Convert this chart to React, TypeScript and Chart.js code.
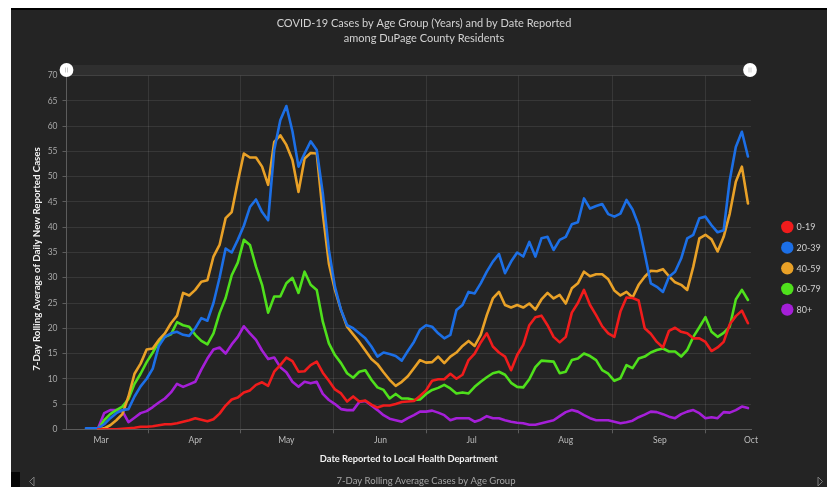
import React, { useEffect, useRef } from 'react';
import { Chart, registerables } from 'chart.js';

Chart.register(...registerables);

const W = 827;
const H = 487;
const FONT = 'Lato, "Open Sans", sans-serif';
const PANEL_BG = '#242424';

// x = day number, day 0 = 1 March 2020, every second day
const DAYS: number[] = Array.from({ length: 110 }, (_, i) => -5 + 2 * i);

const MONTH_STARTS = [0, 31, 61, 92, 122, 153, 184, 214];
const MONTH_LABELS = ['Mar', 'Apr', 'May', 'Jun', 'Jul', 'Aug', 'Sep', 'Oct'];
const MID_MONTHS = [15.5, 46, 76.5, 107, 137.5, 168.5, 199];

const SERIES_LABELS = ['0-19', '20-39', '40-59', '60-79', '80+'];
const SERIES_COLORS = ['#f01c1c', '#1c6fe6', '#e9a127', '#4fe01c', '#a51fd8'];

const AGE_0_19 = [
  null, null, 0, 0, 0, 0, 0.1, 0.2, 0.3, 0.5, 0.5, 0.6, 0.8, 1.0, 1.0, 1.2, 1.5, 1.8, 2.2, 1.9,
  1.6, 2.0, 3.1, 4.7, 5.9, 6.3, 7.3, 7.7, 8.8, 9.3, 8.6, 11.4, 12.7, 14.2, 13.5, 11.4, 11.5, 12.7, 13.4, 11.2,
  9.6, 7.9, 7.1, 5.5, 6.5, 5.5, 5.7, 4.9, 4.3, 4.7, 4.7, 5.0, 5.4, 5.5, 5.6, 6.6, 7.7, 9.6, 9.9, 9.9,
  11.0, 10.0, 10.8, 13.7, 15.0, 17.2, 19.0, 16.4, 15.2, 14.4, 11.7, 14.7, 16.7, 20.6, 22.2, 22.5, 20.6, 18.3, 17.2, 18.3,
  23.1, 25.0, 27.6, 24.6, 22.6, 20.4, 19.0, 18.3, 23.3, 26.1, 26.0, 25.5, 20.0, 18.9, 17.3, 16.2, 19.5, 20.1, 19.3, 19.0,
  18.0, 18.0, 17.3, 15.5, 16.2, 17.3, 20.8, 22.4, 23.5, 21.0,
];

const AGE_20_39 = [
  0.2, 0.2, 0.2, 1.0, 2.2, 3.2, 3.8, 4.0, 6.5, 8.5, 10.0, 12.0, 16.5, 18.3, 19.0, 19.3, 18.7, 18.5, 20.0, 22.0,
  21.5, 25.0, 30.0, 35.8, 35.0, 37.5, 40.3, 44.0, 45.5, 43.0, 41.4, 55.3, 61.2, 64.0, 59.0, 52.0, 54.6, 57.0, 55.3, 46.7,
  35.5, 28.2, 23.6, 20.6, 20.0, 19.0, 18.0, 16.4, 14.4, 15.2, 14.9, 14.5, 13.6, 15.5, 17.3, 19.7, 20.6, 20.3, 19.0, 18.0,
  18.7, 23.6, 24.6, 27.2, 26.9, 28.9, 31.2, 33.2, 34.7, 30.9, 33.2, 35.0, 34.2, 37.1, 34.2, 37.8, 38.1, 35.5, 37.5, 38.1,
  40.6, 41.0, 45.7, 43.7, 44.2, 44.6, 42.6, 42.1, 42.7, 45.4, 43.5, 40.4, 34.8, 28.9, 28.2, 27.2, 30.2, 31.2, 33.8, 37.8,
  38.5, 41.8, 42.1, 40.4, 39.0, 39.4, 49.3, 55.9, 58.9, 54.0,
];

const AGE_40_59 = [
  null, null, 0, 0.2, 0.8, 1.8, 3.0, 6.5, 11.0, 13.0, 15.8, 16.0, 17.7, 19.0, 21.0, 22.5, 27.0, 26.5, 27.6, 29.2,
  29.5, 34.2, 36.5, 41.8, 43.0, 49.0, 54.6, 53.8, 53.8, 52.0, 48.4, 56.9, 58.2, 56.3, 53.3, 47.0, 53.6, 54.7, 54.6, 42.7,
  32.8, 27.6, 23.6, 20.3, 18.8, 17.3, 15.6, 13.9, 12.9, 11.3, 9.8, 8.6, 9.4, 10.5, 12.1, 13.7, 13.2, 13.3, 14.4, 13.1,
  14.4, 15.2, 16.5, 17.5, 16.5, 18.7, 22.6, 25.9, 27.2, 24.6, 24.1, 24.6, 24.1, 24.9, 23.7, 25.7, 27.0, 25.9, 26.6, 24.9,
  27.9, 28.9, 31.2, 30.3, 30.7, 30.7, 29.7, 27.5, 26.5, 27.2, 26.1, 28.6, 30.2, 31.4, 31.3, 31.7, 30.3, 29.1, 28.6, 27.6,
  32.2, 37.8, 38.5, 37.6, 35.2, 38.1, 42.7, 49.0, 52.0, 44.7,
];

const AGE_60_79 = [
  null, null, 0, 1.8, 3.0, 3.8, 4.5, 6.0, 9.0, 11.0, 13.3, 15.2, 17.3, 18.3, 18.8, 21.2, 20.6, 20.3, 18.7, 17.5,
  16.8, 19.0, 23.0, 26.0, 30.5, 33.0, 37.5, 36.5, 32.2, 28.6, 23.1, 26.3, 26.3, 28.9, 30.0, 27.0, 31.2, 28.6, 27.6, 21.3,
  17.0, 14.7, 13.1, 11.1, 10.2, 11.4, 11.7, 9.8, 8.3, 7.8, 6.1, 7.0, 6.1, 6.1, 5.8, 5.9, 7.0, 7.8, 8.2, 8.8,
  8.1, 7.1, 7.3, 7.1, 8.4, 9.4, 10.3, 11.1, 11.4, 10.8, 9.2, 8.4, 8.3, 9.9, 12.3, 13.6, 13.5, 13.4, 11.1, 11.4,
  13.7, 14.0, 15.0, 14.5, 13.7, 11.7, 11.0, 9.6, 10.1, 12.7, 12.1, 14.0, 14.4, 15.2, 15.7, 16.0, 15.4, 15.4, 14.4, 15.7,
  18.3, 20.2, 22.2, 19.3, 18.3, 19.1, 20.3, 25.7, 27.6, 25.6,
];

const AGE_80_PLUS = [
  null, null, 0.2, 3.2, 3.8, 3.8, 3.6, 1.4, 2.3, 3.2, 3.6, 4.4, 5.3, 6.1, 7.3, 9.0, 8.4, 8.9, 9.4, 11.8,
  14.0, 15.8, 16.2, 15.0, 16.8, 18.3, 20.4, 19.0, 17.7, 15.6, 13.9, 14.2, 12.3, 11.3, 9.4, 8.4, 9.4, 9.1, 9.4, 7.0,
  5.8, 5.0, 4.0, 3.8, 3.8, 5.4, 5.6, 4.7, 3.8, 2.8, 2.1, 1.8, 1.5, 2.2, 2.8, 3.5, 3.5, 3.7, 3.3, 2.8,
  1.8, 2.2, 2.2, 2.2, 1.5, 1.9, 2.6, 2.2, 2.2, 1.8, 1.5, 1.3, 1.2, 0.9, 0.9, 1.2, 1.5, 1.8, 2.6, 3.4,
  3.8, 3.5, 2.8, 2.2, 1.8, 1.8, 1.8, 1.5, 1.2, 1.4, 1.7, 2.4, 2.9, 3.5, 3.4, 3.0, 2.5, 2.2, 3.0, 3.5,
  3.8, 3.2, 2.2, 2.4, 2.2, 3.4, 3.3, 3.8, 4.5, 4.2,
];

const SERIES_VALUES = [AGE_0_19, AGE_20_39, AGE_40_59, AGE_60_79, AGE_80_PLUS];

const TITLE_LINES = [
  'COVID-19 Cases by Age Group (Years) and by Date Reported',
  'among DuPage County Residents',
];
const Y_TITLE = '7-Day Rolling Average of Daily New Reported Cases';
const X_TITLE = 'Date Reported to Local Health Department';
const FOOTER = '7-Day Rolling Average Cases by Age Group';

const Y_MIN = 0;
const Y_MAX = 70;
const Y_STEP = 5;
const X_MIN = -11.4;
const X_MAX = 214;

const GRID_COLOR = 'rgba(255,255,255,0.09)';
const AXIS_COLOR = '#5c5c5c';

function drawKnob(ctx: CanvasRenderingContext2D, x: number, y: number) {
  ctx.beginPath();
  ctx.arc(x, y, 6.9, 0, Math.PI * 2);
  ctx.fillStyle = '#ffffff';
  ctx.fill();
  ctx.strokeStyle = '#bdbdbd';
  ctx.lineWidth = 0.8;
  ctx.beginPath();
  ctx.moveTo(x - 1, y - 2.5);
  ctx.lineTo(x - 1, y + 2.5);
  ctx.moveTo(x + 1, y - 2.5);
  ctx.lineTo(x + 1, y + 2.5);
  ctx.stroke();
}

const framePlugin = {
  id: 'dashboardFrame',
  beforeDraw(chart: any) {
    const { ctx, chartArea } = chart;
    ctx.save();
    ctx.fillStyle = '#ffffff';
    ctx.fillRect(0, 0, W, H);
    ctx.fillStyle = PANEL_BG;
    ctx.fillRect(11, 8, W - 11, H - 8);
    ctx.fillStyle = '#000000';
    ctx.fillRect(11, 8, W - 11, 2);
    ctx.fillStyle = '#050505';
    ctx.fillRect(11, 472, 9, 15);
    ctx.fillStyle = '#2f2f2f';
    ctx.fillRect(chartArea.left, 65, chartArea.right - chartArea.left - 1, 11);
    ctx.restore();
  },
  afterDraw(chart: any) {
    const { ctx, chartArea } = chart;
    ctx.save();
    // slider knobs
    drawKnob(ctx, chartArea.left, 70);
    drawKnob(ctx, chartArea.right - 1, 70);

    // title
    ctx.fillStyle = '#d2d2d2';
    ctx.font = `11px ${FONT}`;
    ctx.textAlign = 'center';
    ctx.textBaseline = 'middle';
    ctx.fillText(TITLE_LINES[0], 424, 23.5);
    ctx.fillText(TITLE_LINES[1], 424, 38);

    // y axis title
    ctx.save();
    ctx.translate(37, 259);
    ctx.rotate(-Math.PI / 2);
    ctx.fillStyle = '#f2f2f2';
    ctx.font = `bold 9.7px ${FONT}`;
    ctx.fillText(Y_TITLE, 0, 0);
    ctx.restore();

    // footer
    ctx.fillStyle = '#a6a6a6';
    ctx.font = `9.5px ${FONT}`;
    ctx.fillText(FOOTER, 426, 481);

    // arrows
    ctx.strokeStyle = '#7a7a7a';
    ctx.lineWidth = 1;
    ctx.beginPath();
    ctx.moveTo(34, 477);
    ctx.lineTo(29.5, 481.5);
    ctx.lineTo(34, 486);
    ctx.closePath();
    ctx.stroke();
    ctx.beginPath();
    ctx.moveTo(818, 477);
    ctx.lineTo(822.5, 481.5);
    ctx.lineTo(818, 486);
    ctx.closePath();
    ctx.stroke();

    // legend
    ctx.textAlign = 'left';
    ctx.font = `9px ${FONT}`;
    SERIES_LABELS.forEach((label, i) => {
      const y = 227 + i * 20.65;
      ctx.beginPath();
      ctx.arc(787.3, y, 6.2, 0, Math.PI * 2);
      ctx.fillStyle = SERIES_COLORS[i];
      ctx.fill();
      ctx.fillStyle = '#cfcfcf';
      ctx.fillText(label, 796.5, y + 0.5);
    });
    ctx.restore();
  },
};

export default function App() {
  const canvasRef = useRef<HTMLCanvasElement | null>(null);

  useEffect(() => {
    if (!canvasRef.current) return;
    const datasets = SERIES_LABELS.map((label, s) => ({
      label,
      data: DAYS.map((d, i) => ({ x: d, y: SERIES_VALUES[s][i] })),
      borderColor: SERIES_COLORS[s],
      backgroundColor: SERIES_COLORS[s],
      borderWidth: 2.6,
      pointRadius: 0,
      tension: 0,
      borderJoinStyle: 'round' as const,
      borderCapStyle: 'round' as const,
      spanGaps: false,
    }));

    const midSet = new Set(MID_MONTHS);

    const chart = new Chart(canvasRef.current, {
      type: 'line',
      data: { datasets },
      options: {
        animation: false,
        responsive: false,
        maintainAspectRatio: false,
        devicePixelRatio: 1,
        events: [],
        layout: { padding: { top: 75.7, left: 11, right: 76, bottom: 0 } },
        plugins: {
          legend: { display: false },
          title: { display: false },
          tooltip: { enabled: false },
        },
        scales: {
          x: {
            type: 'linear',
            min: X_MIN,
            max: X_MAX,
            afterFit: (scale: any) => {
              scale.height = H - 429.3;
            },
            afterBuildTicks: (scale: any) => {
              scale.ticks = [...MONTH_STARTS, ...MID_MONTHS]
                .sort((a, b) => a - b)
                .map((v) => ({ value: v }));
            },
            ticks: {
              autoSkip: false,
              maxRotation: 0,
              color: '#bdbdbd',
              font: { family: FONT, size: 8.5 },
              padding: 2,
              callback: (value: any) => {
                const idx = MONTH_STARTS.indexOf(Number(value));
                return idx >= 0 ? MONTH_LABELS[idx] : '';
              },
            },
            grid: {
              color: (ctx: any) => (ctx.tick && midSet.has(ctx.tick.value) ? GRID_COLOR : 'transparent'),
              tickColor: (ctx: any) => (ctx.tick && midSet.has(ctx.tick.value) ? AXIS_COLOR : 'transparent'),
              borderDash: [2, 2],
              tickBorderDash: [],
              tickLength: 4,
              drawOnChartArea: true,
            },
            border: { display: true, color: AXIS_COLOR, width: 1 },
            title: {
              display: true,
              text: X_TITLE,
              color: '#f2f2f2',
              font: { family: FONT, size: 9.3, weight: 'bold' },
              padding: { top: 0, bottom: 22.2 },
            },
          },
          y: {
            min: Y_MIN,
            max: Y_MAX,
            afterFit: (scale: any) => {
              scale.width = 55.5;
            },
            ticks: {
              stepSize: Y_STEP,
              color: '#a8a8a8',
              font: { family: FONT, size: 8.5 },
              padding: 5,
            },
            grid: {
              color: GRID_COLOR,
              tickColor: AXIS_COLOR,
              borderDash: [2, 2],
              tickBorderDash: [],
              tickLength: 4,
            },
            border: { display: true, color: AXIS_COLOR, width: 1 },
            title: { display: false },
          },
        },
      },
      plugins: [framePlugin],
    });

    return () => chart.destroy();
  }, []);

  return (
    <div style={{ position: 'fixed', left: 0, top: 0, width: W, height: H, background: '#fff' }}>
      <canvas ref={canvasRef} width={W} height={H} style={{ display: 'block', width: W, height: H }} />
    </div>
  );
}
